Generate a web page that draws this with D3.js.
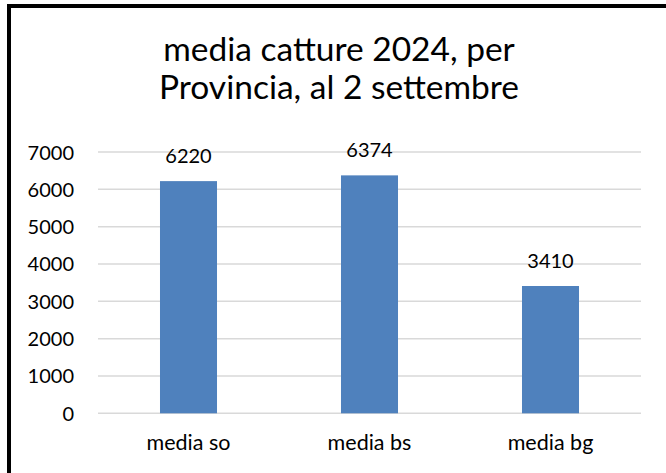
<!DOCTYPE html>
<html>
<head>
<meta charset="utf-8">
<script src="https://cdn.jsdelivr.net/npm/d3@7"></script>
<style>
  html, body { margin: 0; padding: 0; background: #fff; }
  svg { display: block; }
  text { font-family: Lato, "Open Sans", sans-serif; fill: #000; }
</style>
</head>
<body>
<svg id="chart" width="666" height="473"></svg>
<script>
// Chart data
const categories = ["media so", "media bs", "media bg"];
const values = [6220, 6374, 3410];
const yTicks = [0, 1000, 2000, 3000, 4000, 5000, 6000, 7000];
const titleLines = ["media catture 2024, per", "Provincia, al 2 settembre"];

const W = 666, H = 473;
const plot = { left: 98, right: 641, top: 152, bottom: 413.3 };

const svg = d3.select("#chart");

// Frame (only top and left edges fall inside the view)
svg.append("rect")
  .attr("x", 9).attr("y", 6)
  .attr("width", W + 20).attr("height", H + 20)
  .attr("fill", "#fff")
  .attr("stroke", "#000")
  .attr("stroke-width", 4);

// Title
svg.append("g").selectAll("text")
  .data(titleLines)
  .join("text")
  .attr("x", 339)
  .attr("y", (d, i) => 61 + i * 38)
  .attr("text-anchor", "middle")
  .attr("font-size", 33.5)
  .text(d => d);

const x = d3.scaleBand()
  .domain(categories)
  .range([plot.left, plot.right])
  .paddingInner(0.685)
  .paddingOuter(0.3425);

const y = d3.scaleLinear()
  .domain([0, 7000])
  .range([plot.bottom, plot.top]);

// Gridlines
svg.append("g").selectAll("line")
  .data(yTicks)
  .join("line")
  .attr("x1", plot.left).attr("x2", plot.right)
  .attr("y1", d => y(d)).attr("y2", d => y(d))
  .attr("stroke", "#d9d9d9")
  .attr("stroke-width", 1.5);

// Y axis labels
const yAxis = d3.axisLeft(y).tickValues(yTicks).tickSize(0).tickPadding(0)
  .tickFormat(d3.format("d"));
const yg = svg.append("g")
  .attr("transform", `translate(${plot.left - 24},0)`)
  .call(yAxis);
yg.select(".domain").remove();
yg.selectAll("text")
  .attr("font-size", 20)
  .attr("font-family", "Lato, 'Open Sans', sans-serif")
  .attr("fill", "#000")
  .attr("dy", "0.35em");

// Bars
svg.append("g").selectAll("rect")
  .data(values)
  .join("rect")
  .attr("x", (d, i) => x(categories[i]))
  .attr("y", d => y(d))
  .attr("width", x.bandwidth())
  .attr("height", d => y(0) - y(d))
  .attr("fill", "#4f81bd");

// Value labels
svg.append("g").selectAll("text")
  .data(values)
  .join("text")
  .attr("x", (d, i) => x(categories[i]) + x.bandwidth() / 2)
  .attr("y", d => y(d) - 18)
  .attr("text-anchor", "middle")
  .attr("font-size", 20)
  .text(d => d);

// Category labels
const xAxis = d3.axisBottom(x).tickSize(0).tickPadding(0);
const xg = svg.append("g")
  .attr("transform", `translate(0,${plot.bottom + 37})`)
  .call(xAxis);
xg.select(".domain").remove();
xg.selectAll("text")
  .attr("font-size", 21.5)
  .attr("font-family", "Lato, 'Open Sans', sans-serif")
  .attr("fill", "#000")
  .attr("dy", 0);
</script>
</body>
</html>
